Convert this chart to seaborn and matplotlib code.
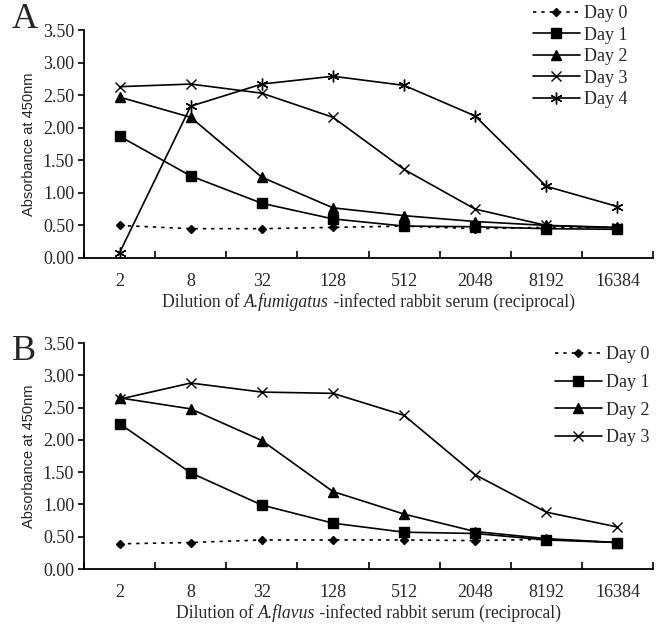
import matplotlib
matplotlib.use("Agg")
import matplotlib.pyplot as plt
from matplotlib.offsetbox import TextArea, HPacker, AnchoredOffsetbox
import seaborn as sns
import numpy as np
import pandas as pd

dilutions = ["2", "8", "32", "128", "512", "2048", "8192", "16384"]
yticks = [0.0, 0.5, 1.0, 1.5, 2.0, 2.5, 3.0, 3.5]

a_day0 = [0.50, 0.45, 0.45, 0.47, 0.49, 0.45, 0.47, 0.47]
a_day1 = [1.87, 1.26, 0.84, 0.60, 0.49, 0.48, 0.45, 0.44]
a_day2 = [2.47, 2.16, 1.24, 0.77, 0.65, 0.56, 0.50, 0.47]
a_day3 = [2.63, 2.67, 2.53, 2.16, 1.36, 0.75, 0.50, 0.46]
a_day4 = [0.08, 2.33, 2.67, 2.79, 2.65, 2.18, 1.10, 0.79]

b_day0 = [0.39, 0.41, 0.45, 0.45, 0.45, 0.44, 0.46, 0.41]
b_day1 = [2.25, 1.49, 0.99, 0.71, 0.57, 0.55, 0.45, 0.41]
b_day2 = [2.65, 2.48, 1.99, 1.20, 0.85, 0.58, 0.47, 0.41]
b_day3 = [2.63, 2.88, 2.74, 2.72, 2.38, 1.46, 0.88, 0.65]

sns.set_style("ticks")
plt.rcParams['font.family'] = ['Liberation Serif', 'DejaVu Serif']

styles = {
    "Day 0": dict(marker="D", ms=4.5, ls=(0, (2, 3))),
    "Day 1": dict(marker="s", ms=6.5, ls="-"),
    "Day 2": dict(marker="^", ms=6.5, ls="-"),
    "Day 3": dict(marker="x", ms=7.5, ls="-"),
    "Day 4": dict(marker=(6, 2, 0), ms=8.5, ls="-"),
}

fig = plt.figure(figsize=(6.62, 6.28), dpi=100)
W, H = 662, 628
L, R = 84, 653
axA = fig.add_axes([L / W, 1 - 258 / H, (R - L) / W, (258 - 30) / H])
axB = fig.add_axes([L / W, 1 - 569 / H, (R - L) / W, (569 - 343) / H])

def draw(ax, series, species, legend_box, spacing, label_y):
    x = np.arange(len(dilutions))
    for name, vals in series:
        st = styles[name]
        df = pd.DataFrame({"x": x, "y": vals})
        sns.lineplot(data=df, x="x", y="y", ax=ax, color="black", lw=1.2,
                     marker=st["marker"], markersize=st["ms"], linestyle=st["ls"],
                     markeredgecolor="black", markerfacecolor="black",
                     markeredgewidth=1.0, label=name)
    ax.set_xlim(-0.5, len(dilutions) - 0.5)
    ax.set_ylim(0, 3.5)
    ax.set_yticks(yticks)
    ax.set_yticklabels([f"{v:.2f}" for v in yticks], fontsize=13)
    ax.set_xticks(np.arange(-0.5, len(dilutions)))
    ax.set_xticklabels([])
    ax.set_xticks(x, minor=True)
    ax.set_xticklabels(dilutions, minor=True, fontsize=13)
    ax.tick_params(axis="x", which="major", direction="in", length=5, width=1.2, color="black")
    ax.tick_params(axis="x", which="minor", length=0, pad=11)
    ax.tick_params(axis="y", direction="out", length=4, width=1.2, color="black", pad=3)
    for s in ["top", "right"]:
        ax.spines[s].set_visible(False)
    for s in ["left", "bottom"]:
        ax.spines[s].set_linewidth(1.3)
        ax.spines[s].set_color("black")
    ax.set_xlabel("")
    ax.set_ylabel("Absorbance at 450nm", family=["Liberation Sans", "DejaVu Sans"], fontsize=10.5, labelpad=5)
    fs = 12.7
    parts = [
        TextArea("Dilution of ", textprops=dict(fontsize=fs, family="Liberation Serif")),
        TextArea(species, textprops=dict(fontsize=fs, family="Liberation Serif", style="italic")),
        TextArea(" -infected rabbit serum (reciprocal)", textprops=dict(fontsize=fs, family="Liberation Serif")),
    ]
    box = HPacker(children=parts, align="baseline", pad=0, sep=0)
    anch = AnchoredOffsetbox(loc="center", child=box, pad=0, frameon=False,
                             bbox_to_anchor=((L + R) / 2 / W, label_y), bbox_transform=fig.transFigure,
                             borderpad=0)
    fig.add_artist(anch)
    ax.legend(loc="upper left", bbox_to_anchor=legend_box, frameon=False, fontsize=13,
              handlelength=2.6, handletextpad=0.2, labelspacing=spacing, borderaxespad=0,
              borderpad=0)

draw(axA, [("Day 0", a_day0), ("Day 1", a_day1), ("Day 2", a_day2),
           ("Day 3", a_day3), ("Day 4", a_day4)], "A.fumigatus",
     ((533 - L) / (R - L), 1 + 25 / 228), 0.25, 1 - 302 / H)
draw(axB, [("Day 0", b_day0), ("Day 1", b_day1), ("Day 2", b_day2),
           ("Day 3", b_day3)], "A.flavus",
     ((555 - L) / (R - L), 1 - 3 / 226), 0.6, 1 - 613 / H)

fig.text(12 / W, 1 - 19 / H, "A", fontsize=26, va="center", ha="left")
fig.text(12 / W, 1 - 352 / H, "B", fontsize=26, va="center", ha="left")

fig.savefig("out.png", dpi=100, facecolor="white")
